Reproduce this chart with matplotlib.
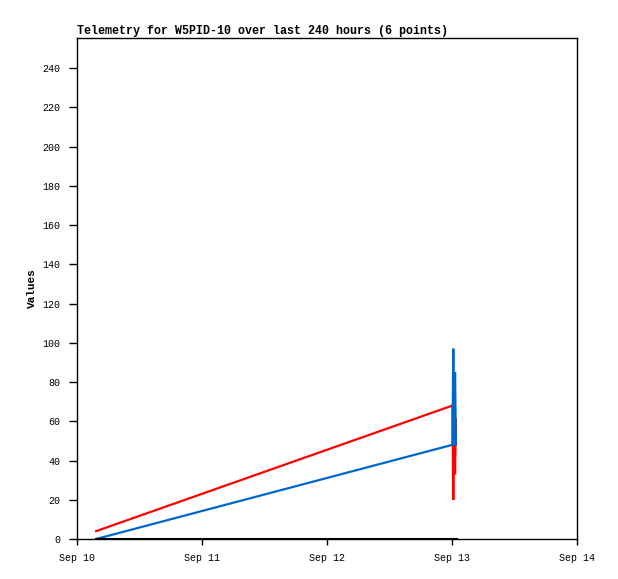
import matplotlib
matplotlib.use("Agg")
import matplotlib.pyplot as plt
import matplotlib.dates as mdates
import numpy as np
from datetime import datetime

times = [datetime(2024, 9, 10, 3, 40), datetime(2024, 9, 13, 0, 5),
         datetime(2024, 9, 13, 0, 15), datetime(2024, 9, 13, 0, 25),
         datetime(2024, 9, 13, 0, 35), datetime(2024, 9, 13, 0, 45)]
red_vals = [4, 68, 20, 68, 33, 61]
blue_vals = [0, 48, 97, 48, 85, 48]
black_vals = [0, 0, 0, 0, 0, 0]
yticks = list(range(0, 241, 20))
title = "Telemetry for W5PID-10 over last 240 hours (6 points)"

plt.rcParams['font.family'] = ['Liberation Mono', 'DejaVu Sans Mono']
fig = plt.figure(figsize=(6.18, 5.79), dpi=100)
ax = fig.add_axes([77/618, 40/579, 500/618, 501/579])
t = mdates.date2num(times)
ax.plot(t, red_vals, color='#ff0000', lw=1.6, solid_joinstyle='miter')
ax.plot(t, blue_vals, color='#0066cc', lw=1.6, solid_joinstyle='miter')
ax.plot(t, black_vals, color='#000000', lw=2.2)
ax.set_xlim(mdates.date2num(datetime(2024, 9, 10)), mdates.date2num(datetime(2024, 9, 14)))
ax.set_ylim(0, 255.3)
ax.set_yticks(yticks)
ax.xaxis.set_major_locator(mdates.DayLocator())
ax.xaxis.set_major_formatter(mdates.DateFormatter('%b %d'))
ax.tick_params(axis='y', direction='out', length=6, width=1, labelsize=7.2, pad=6)
ax.tick_params(axis='x', direction='out', length=4.5, width=1, labelsize=7.2, pad=5.5)
ax.set_ylabel('Values', fontsize=8, fontweight='bold', labelpad=4)
ax.set_title(title, loc='left', fontsize=8.4, fontweight='bold', pad=3)
for s in ax.spines.values():
    s.set_linewidth(1)
fig.savefig('out.png', dpi=100)
